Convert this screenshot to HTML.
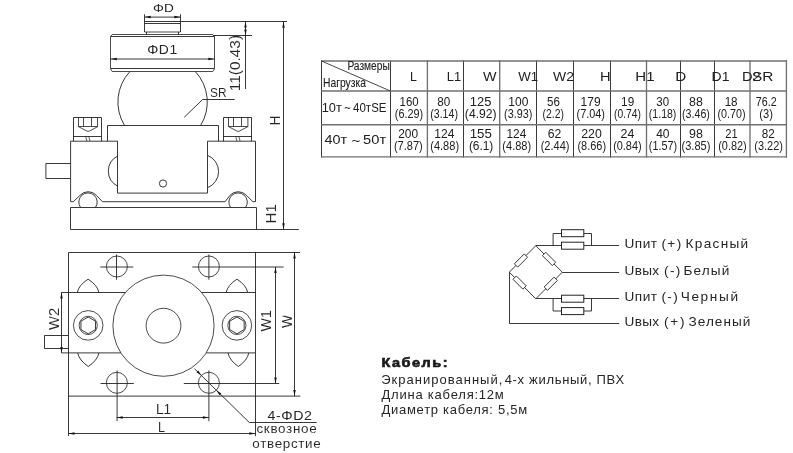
<!DOCTYPE html>
<html lang="ru">
<head>
<meta charset="utf-8">
<title>Размеры</title>
<style>
html,body{margin:0;padding:0;background:#fff;}
body{width:793px;height:453px;overflow:hidden;}
svg{display:block;font-family:"Liberation Sans",sans-serif;filter:grayscale(1);}
</style>
</head>
<body>
<svg width="793" height="453" viewBox="0 0 793 453">
<rect x="0" y="0" width="793" height="453" fill="#fff"/>
<g id="elevation">
<text x="153.05" y="12.4" font-size="11.5" fill="#262626" textLength="20.77" lengthAdjust="spacingAndGlyphs" >ΦD</text>
<line x1="144.5" y1="14.3" x2="144.5" y2="32" stroke="#222" stroke-width="0.9" />
<line x1="180.5" y1="14.3" x2="180.5" y2="32" stroke="#222" stroke-width="0.9" />
<line x1="144.7" y1="17.1" x2="180.3" y2="17.1" stroke="#222" stroke-width="0.9" />
<polygon points="144.70,17.10 150.70,15.85 150.70,18.35" fill="#151515"/>
<polygon points="180.30,17.10 174.30,18.35 174.30,15.85" fill="#151515"/>
<line x1="144.7" y1="21.5" x2="287" y2="21.5" stroke="#222" stroke-width="0.9" />
<line x1="144.7" y1="23.5" x2="180.3" y2="23.5" stroke="#222" stroke-width="0.9" />
<line x1="144.7" y1="32" x2="180.3" y2="32" stroke="#222" stroke-width="0.81" />
<line x1="146.5" y1="32" x2="146.5" y2="34.8" stroke="#222" stroke-width="0.9" />
<line x1="178.5" y1="32" x2="178.5" y2="34.8" stroke="#222" stroke-width="0.9" />
<path d="M110.5,36.7 L112.2,34.5 L212.8,34.5 L214.5,36.7 L214.5,68.6 L212.8,71.5 L112.2,71.5 L110.5,68.6 Z" stroke="#222" stroke-width="0.81" fill="none" />
<line x1="110.6" y1="36.5" x2="214.4" y2="36.5" stroke="#222" stroke-width="0.9" />
<line x1="110.6" y1="68.5" x2="214.4" y2="68.5" stroke="#222" stroke-width="0.9" />
<line x1="213" y1="35.5" x2="252" y2="35.5" stroke="#222" stroke-width="0.9" />
<line x1="110.8" y1="59" x2="214.3" y2="59" stroke="#222" stroke-width="0.9" />
<polygon points="110.80,59.00 116.80,57.75 116.80,60.25" fill="#151515"/>
<polygon points="214.30,59.00 208.30,60.25 208.30,57.75" fill="#151515"/>
<g transform="translate(147.23 53.8) scale(1.07 1)">
<text x="0" y="0" font-size="13" fill="#262626" letter-spacing="0.48" >ΦD1</text>
</g>
<path d="M129.92,71.5 A44.7,44.7 0 0 0 124.58,125.5" stroke="#222" stroke-width="0.9" fill="none" />
<path d="M195.28,71.5 A44.7,44.7 0 0 1 200.62,125.5" stroke="#222" stroke-width="0.9" fill="none" />
<path d="M184.2,117.3 L202.6,99.5 L234.7,99.5" stroke="#222" stroke-width="0.9" fill="none" />
<text x="210.06" y="96.5" font-size="12.8" fill="#262626" textLength="16.52" lengthAdjust="spacingAndGlyphs" stroke="#fff" stroke-width="0.05" >SR</text>
<path d="M107.5,141.2 L107.5,125.5 L218.5,125.5 L218.5,141.2" stroke="#222" stroke-width="0.9" fill="none" />
<path d="M117.5,141.2 L117.5,193.1 L207.5,193.1 L207.5,141.2" stroke="#222" stroke-width="0.9" fill="none" />
<path d="M117.8,141.2 L70.6,141.2 L70.6,201.7 L73.3,201.7 L79.9,195.4 A11.2,11.2 0 0 1 96.5,195.4 L102.4,201.7 L225.1,201.7 L229.89999999999998,195.4 A11.2,11.2 0 0 1 246.5,195.4 L252.89999999999998,201.7 L255.5,201.7 L255.5,141.2 L207.4,141.2" stroke="#222" stroke-width="0.9" fill="none" />
<path d="M117.8,156 A16.8,16.8 0 0 0 117.8,186.2" stroke="#222" stroke-width="0.9" fill="none" />
<path d="M207.4,155.3 A17.4,17.4 0 0 1 207.4,187.8" stroke="#222" stroke-width="0.9" fill="none" />
<path d="M80.48,207.4 A9.2,9.2 0 1 1 95.52,207.4" stroke="#222" stroke-width="0.9" fill="none" />
<path d="M230.58,207.4 A9.2,9.2 0 1 1 245.62,207.4" stroke="#222" stroke-width="0.9" fill="none" />
<circle cx="163" cy="183.5" r="3.6" stroke="#222" stroke-width="0.9" fill="none"/>
<path d="M70.5,163.5 L45.9,163.5 L45.9,178.5 L70.5,178.5" stroke="#222" stroke-width="0.9" fill="none" />
<path d="M73.5,141.2 L73.5,117.5 L101.5,117.5 L101.5,141.2" stroke="#222" stroke-width="0.9" fill="none" />
<line x1="73.2" y1="136.5" x2="101.6" y2="136.5" stroke="#222" stroke-width="0.9" />
<line x1="78.5" y1="117.2" x2="78.5" y2="126.6" stroke="#222" stroke-width="0.81" />
<line x1="83.5" y1="117.2" x2="83.5" y2="126.6" stroke="#222" stroke-width="0.81" />
<line x1="91.5" y1="117.2" x2="91.5" y2="126.6" stroke="#222" stroke-width="0.81" />
<line x1="97.5" y1="117.2" x2="97.5" y2="126.6" stroke="#222" stroke-width="0.81" />
<line x1="78.4" y1="126.5" x2="97.80000000000001" y2="126.5" stroke="#222" stroke-width="0.81" />
<path d="M78.4,126.6 L86.7,131 Q88.10000000000001,131.8 89.5,131 L97.80000000000001,126.6" stroke="#222" stroke-width="0.81" fill="none" />
<line x1="85.60000000000001" y1="136.2" x2="86.9" y2="141.2" stroke="#222" stroke-width="0.72" />
<line x1="88.7" y1="136.2" x2="90.0" y2="141.2" stroke="#222" stroke-width="0.72" />
<path d="M223.5,141.2 L223.5,117.5 L251.5,117.5 L251.5,141.2" stroke="#222" stroke-width="0.9" fill="none" />
<line x1="223.3" y1="136.5" x2="251.70000000000002" y2="136.5" stroke="#222" stroke-width="0.9" />
<line x1="228.5" y1="117.2" x2="228.5" y2="126.6" stroke="#222" stroke-width="0.81" />
<line x1="233.5" y1="117.2" x2="233.5" y2="126.6" stroke="#222" stroke-width="0.81" />
<line x1="241.5" y1="117.2" x2="241.5" y2="126.6" stroke="#222" stroke-width="0.81" />
<line x1="247.9" y1="117.2" x2="247.9" y2="126.6" stroke="#222" stroke-width="0.81" />
<line x1="228.5" y1="126.5" x2="247.9" y2="126.5" stroke="#222" stroke-width="0.81" />
<path d="M228.5,126.6 L236.8,131 Q238.20000000000002,131.8 239.60000000000002,131 L247.9,126.6" stroke="#222" stroke-width="0.81" fill="none" />
<line x1="235.70000000000002" y1="136.2" x2="237.0" y2="141.2" stroke="#222" stroke-width="0.72" />
<line x1="238.8" y1="136.2" x2="240.10000000000002" y2="141.2" stroke="#222" stroke-width="0.72" />
<path d="M70.5,229.4 L70.5,207.5 L256.5,207.5 L256.5,229.4" stroke="#222" stroke-width="0.9" fill="none" />
<line x1="70.5" y1="229.5" x2="298.8" y2="229.5" stroke="#222" stroke-width="0.9" />
<line x1="283.5" y1="21.7" x2="283.5" y2="229.2" stroke="#222" stroke-width="0.9" />
<polygon points="283.50,21.70 284.75,27.70 282.25,27.70" fill="#151515"/>
<polygon points="283.50,229.20 282.25,223.20 284.75,223.20" fill="#151515"/>
<text x="280" y="125.17" font-size="14.3" fill="#262626" textLength="9.67" lengthAdjust="spacingAndGlyphs" transform="rotate(-90 280 125.17)" stroke="#fff" stroke-width="0.05" >H</text>
<text x="276.3" y="223.4" font-size="14.3" fill="#262626" textLength="19.23" lengthAdjust="spacingAndGlyphs" transform="rotate(-90 276.3 223.4)" stroke="#fff" stroke-width="0.05" >H1</text>
<line x1="245.5" y1="21.5" x2="245.5" y2="89" stroke="#222" stroke-width="0.9" />
<polygon points="245.50,21.70 246.75,27.50 244.25,27.50" fill="#151515"/>
<polygon points="245.50,35.30 244.25,29.50 246.75,29.50" fill="#151515"/>
<text x="239.9" y="91.15" font-size="14.5" fill="#262626" textLength="56.19" lengthAdjust="spacingAndGlyphs" transform="rotate(-90 239.9 91.15)" stroke="#fff" stroke-width="0.05" >11(0.43)</text>
</g>
<g id="plan">
<path d="M68.5,436 L68.5,252.5 L300,252.5" stroke="#222" stroke-width="0.9" fill="none" />
<path d="M255.5,252.4 L255.5,436.2" stroke="#222" stroke-width="0.9" fill="none" />
<line x1="68.5" y1="396.1" x2="300.3" y2="396.1" stroke="#222" stroke-width="0.9"/>
<circle cx="116.9" cy="266.5" r="10.5" stroke="#222" stroke-width="0.81" fill="none"/>
<circle cx="208.9" cy="266.5" r="10.5" stroke="#222" stroke-width="0.81" fill="none"/>
<circle cx="116.9" cy="382.8" r="10.5" stroke="#222" stroke-width="0.81" fill="none"/>
<circle cx="208.9" cy="382.8" r="10.5" stroke="#222" stroke-width="0.81" fill="none"/>
<line x1="100.3" y1="267.0" x2="133.3" y2="267.0" stroke="#222" stroke-width="0.9"/>
<line x1="116.5" y1="254.5" x2="116.5" y2="279.7" stroke="#222" stroke-width="0.9" />
<line x1="192.3" y1="267.0" x2="283.6" y2="267.0" stroke="#222" stroke-width="0.9"/>
<line x1="208.9" y1="254.5" x2="208.9" y2="279.7" stroke="#222" stroke-width="0.9" />
<line x1="100.6" y1="383.5" x2="133.8" y2="383.5" stroke="#222" stroke-width="0.9" />
<line x1="117.1" y1="370.5" x2="117.1" y2="421" stroke="#222" stroke-width="0.9"/>
<line x1="183.8" y1="383.5" x2="279.2" y2="383.5" stroke="#222" stroke-width="0.9" />
<line x1="208.9" y1="370.5" x2="208.9" y2="421.2" stroke="#222" stroke-width="0.9" />
<circle cx="163.5" cy="325.7" r="50.6" stroke="#222" stroke-width="0.81" fill="none"/>
<circle cx="163.5" cy="325.7" r="17.4" stroke="#222" stroke-width="0.81" fill="none"/>
<line x1="61.4" y1="292.5" x2="125.40183731464208" y2="292.5" stroke="#222" stroke-width="0.9" />
<line x1="201.59816268535792" y1="292.5" x2="255.3" y2="292.5" stroke="#222" stroke-width="0.9" />
<line x1="61.4" y1="352.9" x2="120.83244792585353" y2="352.9" stroke="#222" stroke-width="0.9" />
<line x1="206.16755207414647" y1="352.9" x2="255.3" y2="352.9" stroke="#222" stroke-width="0.9" />
<line x1="61.5" y1="292.4" x2="61.5" y2="352.9" stroke="#222" stroke-width="0.9" />
<polygon points="61.50,292.40 62.75,298.40 60.25,298.40" fill="#151515"/>
<polygon points="61.50,352.90 60.25,346.90 62.75,346.90" fill="#151515"/>
<text x="59.1" y="329.87" font-size="14.3" fill="#262626" textLength="22.11" lengthAdjust="spacingAndGlyphs" transform="rotate(-90 59.1 329.87)" stroke="#fff" stroke-width="0.05" >W2</text>
<circle cx="88.2" cy="325.4" r="14.8" stroke="#222" stroke-width="0.81" fill="none"/>
<circle cx="88.2" cy="325.4" r="9.1" stroke="#222" stroke-width="0.81" fill="none"/>
<polygon points="88.20,317.00 95.47,321.20 95.47,329.60 88.20,333.80 80.93,329.60 80.93,321.20" stroke="#222" stroke-width="0.9" fill="none"/>
<circle cx="236.9" cy="325.4" r="14.8" stroke="#222" stroke-width="0.81" fill="none"/>
<circle cx="236.9" cy="325.4" r="9.1" stroke="#222" stroke-width="0.81" fill="none"/>
<polygon points="236.90,317.00 244.17,321.20 244.17,329.60 236.90,333.80 229.63,329.60 229.63,321.20" stroke="#222" stroke-width="0.9" fill="none"/>
<path d="M77.3,292.4 Q78.8,285.14 88.1,279.2 Q97.4,285.14 98.9,292.4" stroke="#222" stroke-width="0.9" fill="none" />
<path d="M226.2,292.4 Q227.7,285.14 236.95,279.2 Q246.2,285.14 247.7,292.4" stroke="#222" stroke-width="0.9" fill="none" />
<path d="M77.7,352.9 Q79.2,360.38 88.30000000000001,366.5 Q97.4,360.38 98.9,352.9" stroke="#222" stroke-width="0.9" fill="none" />
<path d="M228,352.9 Q229.5,360.38 238.4,366.5 Q247.3,360.38 248.8,352.9" stroke="#222" stroke-width="0.9" fill="none" />
<path d="M68.5,335.5 L44.5,335.5 L44.5,348.5 L68.5,348.5" stroke="#222" stroke-width="0.9" fill="none" />
<line x1="275.5" y1="267" x2="275.5" y2="383.5" stroke="#222" stroke-width="0.9" />
<polygon points="275.50,267.00 276.75,273.00 274.25,273.00" fill="#151515"/>
<polygon points="275.50,383.50 274.25,377.50 276.75,377.50" fill="#151515"/>
<line x1="294.5" y1="252.4" x2="294.5" y2="396.1" stroke="#222" stroke-width="0.9" />
<polygon points="294.50,252.40 295.75,258.40 293.25,258.40" fill="#151515"/>
<polygon points="294.50,396.10 293.25,390.10 295.75,390.10" fill="#151515"/>
<text x="271.3" y="331.47" font-size="14.3" fill="#262626" textLength="21.31" lengthAdjust="spacingAndGlyphs" transform="rotate(-90 271.3 331.47)" stroke="#fff" stroke-width="0.05" >W1</text>
<text x="292.2" y="327.97" font-size="14.3" fill="#262626" textLength="13.12" lengthAdjust="spacingAndGlyphs" transform="rotate(-90 292.2 327.97)" stroke="#fff" stroke-width="0.05" >W</text>
<line x1="116.7" y1="417.5" x2="208.9" y2="417.5" stroke="#222" stroke-width="0.9" />
<polygon points="116.70,417.50 122.70,416.25 122.70,418.75" fill="#151515"/>
<polygon points="208.90,417.50 202.90,418.75 202.90,416.25" fill="#151515"/>
<line x1="68.5" y1="433.5" x2="255.3" y2="433.5" stroke="#222" stroke-width="0.9" />
<polygon points="68.50,433.50 74.50,432.25 74.50,434.75" fill="#151515"/>
<polygon points="255.30,433.50 249.30,434.75 249.30,432.25" fill="#151515"/>
<text x="155.9" y="413.5" font-size="14" fill="#262626" textLength="15.25" lengthAdjust="spacingAndGlyphs" stroke="#fff" stroke-width="0.05" >L1</text>
<text x="157.99" y="431.5" font-size="13.8" fill="#262626" textLength="7.0" lengthAdjust="spacingAndGlyphs" stroke="#fff" stroke-width="0.05" >L</text>
<path d="M194.4,368.7 L249.3,422.5 L316.7,422.5" stroke="#222" stroke-width="0.9" fill="none" />
<polygon points="201.50,375.40 196.51,372.18 198.28,370.41" fill="#151515"/>
<polygon points="216.30,390.20 221.29,393.42 219.52,395.19" fill="#151515"/>
<g transform="translate(267.62 419.8) scale(1.12 1)">
<text x="0" y="0" font-size="12.7" fill="#262626" letter-spacing="0.474" >4-ΦD2</text>
</g>
<text x="256.46" y="433.1" font-size="13.4" fill="#262626" letter-spacing="0.7" stroke="#fff" stroke-width="0.05" >сквозное</text>
<text x="252.36" y="448" font-size="13.4" fill="#262626" letter-spacing="0.682" stroke="#fff" stroke-width="0.05" >отверстие</text>
</g>
<g id="table">
<line x1="321.5" y1="60.3" x2="321.5" y2="157.6" stroke="#2e2e2e" stroke-width="0.945" />
<line x1="390.5" y1="60.3" x2="390.5" y2="157.6" stroke="#2e2e2e" stroke-width="0.945" />
<line x1="427.4" y1="60.3" x2="427.4" y2="157.6" stroke="#707070" stroke-width="1.35"/>
<line x1="463.5" y1="60.3" x2="463.5" y2="157.6" stroke="#2e2e2e" stroke-width="0.945" />
<line x1="499.7" y1="60.3" x2="499.7" y2="157.6" stroke="#707070" stroke-width="1.35"/>
<line x1="536.5" y1="60.3" x2="536.5" y2="157.6" stroke="#2e2e2e" stroke-width="0.945" />
<line x1="573.5" y1="60.3" x2="573.5" y2="157.6" stroke="#2e2e2e" stroke-width="0.945" />
<line x1="610.5" y1="60.3" x2="610.5" y2="157.6" stroke="#2e2e2e" stroke-width="0.945" />
<line x1="646.5" y1="60.3" x2="646.5" y2="157.6" stroke="#707070" stroke-width="1.35"/>
<line x1="680.5" y1="60.3" x2="680.5" y2="157.6" stroke="#2e2e2e" stroke-width="0.945" />
<line x1="714.5" y1="60.3" x2="714.5" y2="157.6" stroke="#2e2e2e" stroke-width="0.945" />
<line x1="750" y1="60.3" x2="750" y2="157.6" stroke="#707070" stroke-width="1.35"/>
<line x1="786.4" y1="60.3" x2="786.4" y2="157.6" stroke="#707070" stroke-width="1.35"/>
<line x1="321.0" y1="61.0" x2="787.0" y2="61.0" stroke="#707070" stroke-width="1.44"/>
<line x1="321.0" y1="91.0" x2="787.0" y2="91.0" stroke="#707070" stroke-width="1.44"/>
<line x1="321.0" y1="124.8" x2="787.0" y2="124.8" stroke="#707070" stroke-width="1.44"/>
<line x1="321.0" y1="156.9" x2="787.0" y2="156.9" stroke="#707070" stroke-width="1.44"/>
<line x1="321.5" y1="61.0" x2="390.4" y2="91.0" stroke="#333" stroke-width="0.9" />
<text x="347.38" y="70.3" font-size="12" fill="#202020" textLength="42.44" lengthAdjust="spacingAndGlyphs" stroke="#202020" stroke-width="0.1" >Размеры</text>
<text x="323.08" y="86.5" font-size="12.9" fill="#202020" textLength="42.85" lengthAdjust="spacingAndGlyphs" stroke="#202020" stroke-width="0.1" >Нагрузка</text>
<text x="410.11" y="80.5" font-size="12.6" fill="#202020" textLength="6.87" lengthAdjust="spacingAndGlyphs" >L</text>
<text x="446.77" y="80.5" font-size="12.6" fill="#202020" textLength="14.34" lengthAdjust="spacingAndGlyphs" >L1</text>
<text x="482.93" y="80.5" font-size="12.6" fill="#202020" textLength="13.53" lengthAdjust="spacingAndGlyphs" >W</text>
<text x="518.33" y="80.5" font-size="12.6" fill="#202020" textLength="19.86" lengthAdjust="spacingAndGlyphs" >W1</text>
<text x="553.13" y="80.5" font-size="12.6" fill="#202020" textLength="20.87" lengthAdjust="spacingAndGlyphs" >W2</text>
<text x="599.93" y="80.5" font-size="12.6" fill="#202020" textLength="10.57" lengthAdjust="spacingAndGlyphs" >H</text>
<text x="635.3" y="80.5" font-size="12.6" fill="#202020" textLength="19.23" lengthAdjust="spacingAndGlyphs" >H1</text>
<text x="675.38" y="80.5" font-size="12.6" fill="#202020" textLength="11.05" lengthAdjust="spacingAndGlyphs" >D</text>
<text x="711.58" y="80.5" font-size="12.6" fill="#202020" textLength="17.9" lengthAdjust="spacingAndGlyphs" >D1</text>
<text x="742.03" y="80.5" font-size="12.6" fill="#202020" textLength="18.76" lengthAdjust="spacingAndGlyphs" >D2</text>
<text x="752.01" y="80.5" font-size="12.6" fill="#202020" textLength="21.35" lengthAdjust="spacingAndGlyphs" >SR</text>
<text x="321.74" y="111.9" font-size="13.2" fill="#202020" textLength="20.12" lengthAdjust="spacingAndGlyphs" >10т</text>
<text x="344.2" y="112.4" font-size="13.2" fill="#202020" textLength="6.49" lengthAdjust="spacingAndGlyphs" >~</text>
<text x="353.07" y="111.9" font-size="13.2" fill="#202020" textLength="33.44" lengthAdjust="spacingAndGlyphs" >40тSE</text>
<text x="324.51" y="144" font-size="13.6" fill="#202020" textLength="22.58" lengthAdjust="spacingAndGlyphs" >40т</text>
<text x="351.42" y="144.6" font-size="13.6" fill="#202020" textLength="8.85" lengthAdjust="spacingAndGlyphs" >~</text>
<text x="363.11" y="144" font-size="13.6" fill="#202020" textLength="22.98" lengthAdjust="spacingAndGlyphs" >50т</text>
<text x="399.54" y="105.8" font-size="12.8" fill="#202020" textLength="19.1" lengthAdjust="spacingAndGlyphs" >160</text>
<text x="394.85" y="118" font-size="12.8" fill="#202020" textLength="28.33" lengthAdjust="spacingAndGlyphs" >(6.29)</text>
<text x="398.2" y="137.8" font-size="12.8" fill="#202020" textLength="19.96" lengthAdjust="spacingAndGlyphs" >200</text>
<text x="393.94" y="150.1" font-size="12.8" fill="#202020" textLength="28.85" lengthAdjust="spacingAndGlyphs" >(7.87)</text>
<text x="437.33" y="105.8" font-size="12.8" fill="#202020" textLength="13.0" lengthAdjust="spacingAndGlyphs" >80</text>
<text x="430.26" y="118" font-size="12.8" fill="#202020" textLength="27.7" lengthAdjust="spacingAndGlyphs" >(3.14)</text>
<text x="434.3" y="137.8" font-size="12.8" fill="#202020" textLength="20.04" lengthAdjust="spacingAndGlyphs" >124</text>
<text x="430.24" y="150.1" font-size="12.8" fill="#202020" textLength="28.85" lengthAdjust="spacingAndGlyphs" >(4.88)</text>
<text x="469.73" y="105.8" font-size="12.8" fill="#202020" textLength="21.64" lengthAdjust="spacingAndGlyphs" >125</text>
<text x="464.87" y="118" font-size="12.8" fill="#202020" textLength="31.79" lengthAdjust="spacingAndGlyphs" >(4.92)</text>
<text x="469.7" y="137.8" font-size="12.8" fill="#202020" textLength="22.18" lengthAdjust="spacingAndGlyphs" >155</text>
<text x="468.89" y="150.1" font-size="12.8" fill="#202020" textLength="24.44" lengthAdjust="spacingAndGlyphs" >(6.1)</text>
<text x="508.3" y="105.8" font-size="12.8" fill="#202020" textLength="20.07" lengthAdjust="spacingAndGlyphs" >100</text>
<text x="504.05" y="118" font-size="12.8" fill="#202020" textLength="28.22" lengthAdjust="spacingAndGlyphs" >(3.93)</text>
<text x="506.51" y="137.8" font-size="12.8" fill="#202020" textLength="19.72" lengthAdjust="spacingAndGlyphs" >124</text>
<text x="502.34" y="150.1" font-size="12.8" fill="#202020" textLength="28.85" lengthAdjust="spacingAndGlyphs" >(4.88)</text>
<text x="547.04" y="105.8" font-size="12.8" fill="#202020" textLength="12.85" lengthAdjust="spacingAndGlyphs" >56</text>
<text x="542.58" y="118" font-size="12.8" fill="#202020" textLength="21.36" lengthAdjust="spacingAndGlyphs" >(2.2)</text>
<text x="547.69" y="137.8" font-size="12.8" fill="#202020" textLength="13.55" lengthAdjust="spacingAndGlyphs" >62</text>
<text x="540.64" y="150.1" font-size="12.8" fill="#202020" textLength="28.85" lengthAdjust="spacingAndGlyphs" >(2.44)</text>
<text x="580.6" y="105.8" font-size="12.8" fill="#202020" textLength="19.98" lengthAdjust="spacingAndGlyphs" >179</text>
<text x="576.55" y="118" font-size="12.8" fill="#202020" textLength="28.43" lengthAdjust="spacingAndGlyphs" >(7.04)</text>
<text x="581.18" y="137.8" font-size="12.8" fill="#202020" textLength="20.59" lengthAdjust="spacingAndGlyphs" >220</text>
<text x="577.44" y="150.1" font-size="12.8" fill="#202020" textLength="28.64" lengthAdjust="spacingAndGlyphs" >(8.66)</text>
<text x="621.12" y="105.8" font-size="12.8" fill="#202020" textLength="13.03" lengthAdjust="spacingAndGlyphs" >19</text>
<text x="613.98" y="118" font-size="12.8" fill="#202020" textLength="26.86" lengthAdjust="spacingAndGlyphs" >(0.74)</text>
<text x="620.58" y="137.8" font-size="12.8" fill="#202020" textLength="13.76" lengthAdjust="spacingAndGlyphs" >24</text>
<text x="613.14" y="150.1" font-size="12.8" fill="#202020" textLength="28.54" lengthAdjust="spacingAndGlyphs" >(0.84)</text>
<text x="656.24" y="105.8" font-size="12.8" fill="#202020" textLength="12.79" lengthAdjust="spacingAndGlyphs" >30</text>
<text x="648.87" y="118" font-size="12.8" fill="#202020" textLength="27.49" lengthAdjust="spacingAndGlyphs" >(1.18)</text>
<text x="656.16" y="137.8" font-size="12.8" fill="#202020" textLength="13.39" lengthAdjust="spacingAndGlyphs" >40</text>
<text x="648.85" y="150.1" font-size="12.8" fill="#202020" textLength="28.22" lengthAdjust="spacingAndGlyphs" >(1.57)</text>
<text x="689.11" y="105.8" font-size="12.8" fill="#202020" textLength="13.72" lengthAdjust="spacingAndGlyphs" >88</text>
<text x="682.06" y="118" font-size="12.8" fill="#202020" textLength="27.8" lengthAdjust="spacingAndGlyphs" >(3.46)</text>
<text x="689.04" y="137.8" font-size="12.8" fill="#202020" textLength="13.78" lengthAdjust="spacingAndGlyphs" >98</text>
<text x="681.54" y="150.1" font-size="12.8" fill="#202020" textLength="28.85" lengthAdjust="spacingAndGlyphs" >(3.85)</text>
<text x="724.63" y="105.8" font-size="12.8" fill="#202020" textLength="12.97" lengthAdjust="spacingAndGlyphs" >18</text>
<text x="717.46" y="118" font-size="12.8" fill="#202020" textLength="28.01" lengthAdjust="spacingAndGlyphs" >(0.70)</text>
<text x="725.24" y="137.8" font-size="12.8" fill="#202020" textLength="12.38" lengthAdjust="spacingAndGlyphs" >21</text>
<text x="718.25" y="150.1" font-size="12.8" fill="#202020" textLength="28.43" lengthAdjust="spacingAndGlyphs" >(0.82)</text>
<text x="755.86" y="105.8" font-size="12.8" fill="#202020" textLength="20.89" lengthAdjust="spacingAndGlyphs" >76.2</text>
<text x="759.33" y="118" font-size="12.8" fill="#202020" textLength="13.56" lengthAdjust="spacingAndGlyphs" >(3)</text>
<text x="761.83" y="137.8" font-size="12.8" fill="#202020" textLength="12.98" lengthAdjust="spacingAndGlyphs" >82</text>
<text x="754.24" y="150.1" font-size="12.8" fill="#202020" textLength="28.75" lengthAdjust="spacingAndGlyphs" >(3.22)</text>
</g>
<g id="wiring">
<path d="M535.8,245.7 L562.3,272.2 L535.8,298.8 L509.3,272.2 Z" stroke="#222" stroke-width="0.9" fill="none" />
<line x1="535.8" y1="245.5" x2="619.1" y2="245.5" stroke="#222" stroke-width="0.9" />
<line x1="562.3" y1="272.5" x2="619.1" y2="272.5" stroke="#222" stroke-width="0.9" />
<line x1="535.8" y1="298.5" x2="619.1" y2="298.5" stroke="#222" stroke-width="0.9" />
<path d="M509.5,272.2 L509.5,323.5 L619.1,323.5" stroke="#222" stroke-width="0.9" fill="none" />
<rect x="-7.0" y="-2.35" width="14" height="4.7" fill="#fff" stroke="#222" stroke-width="0.85" transform="translate(549.05 258.95) rotate(45.00)"/>
<rect x="-7.0" y="-2.35" width="14" height="4.7" fill="#fff" stroke="#222" stroke-width="0.85" transform="translate(550.80 283.74) rotate(-45.11)"/>
<rect x="-7.0" y="-2.35" width="14" height="4.7" fill="#fff" stroke="#222" stroke-width="0.85" transform="translate(519.63 282.57) rotate(45.11)"/>
<rect x="-7.0" y="-2.35" width="14" height="4.7" fill="#fff" stroke="#222" stroke-width="0.85" transform="translate(520.96 260.54) rotate(-45.00)"/>
<path d="M553.1,245.7 L553.1,233.5 L591.5,233.5 L591.5,245.7" stroke="#222" stroke-width="0.9" fill="none" />
<path d="M553.1,298.8 L553.1,311 L591.5,311 L591.5,298.8" stroke="#222" stroke-width="0.9" fill="none" />
<rect x="561.5" y="229.7" width="22.3" height="7" stroke="#222" stroke-width="0.99" fill="#fff" />
<rect x="561.5" y="242.2" width="22.3" height="7" stroke="#222" stroke-width="0.99" fill="#fff" />
<rect x="561.5" y="295.2" width="22.3" height="7" stroke="#222" stroke-width="0.99" fill="#fff" />
<rect x="561.5" y="307.6" width="22.3" height="7" stroke="#222" stroke-width="0.99" fill="#fff" />
<text x="624.58" y="247.9" font-size="13.6" fill="#262626" letter-spacing="0.461" >Uпит</text>
<text x="661.38" y="247.9" font-size="13.6" fill="#262626" letter-spacing="1.4" >(+)</text>
<text x="685.61" y="247.9" font-size="13.6" fill="#262626" letter-spacing="1.3" >Красный</text>
<text x="624.58" y="274.7" font-size="13.6" fill="#262626" letter-spacing="0.288" >Uвых</text>
<text x="664.08" y="274.7" font-size="13.6" fill="#262626" letter-spacing="1.3" >(-)</text>
<text x="683.41" y="274.7" font-size="13.6" fill="#262626" letter-spacing="1.149" >Белый</text>
<text x="624.58" y="300.7" font-size="13.6" fill="#262626" letter-spacing="0.461" >Uпит</text>
<text x="661.38" y="300.7" font-size="13.6" fill="#262626" letter-spacing="1.35" >(-)</text>
<text x="680.68" y="300.7" font-size="13.6" fill="#262626" letter-spacing="1.655" >Черный</text>
<text x="624.58" y="325.9" font-size="13.6" fill="#262626" letter-spacing="0.288" >Uвых</text>
<text x="664.08" y="325.9" font-size="13.6" fill="#262626" letter-spacing="1.7" >(+)</text>
<text x="688.62" y="325.9" font-size="13.6" fill="#262626" letter-spacing="0.995" >Зеленый</text>
</g>
<g id="cable">
<g transform="translate(381.46 366.7) scale(1.18 1)">
<text x="0" y="0" font-size="12.3" fill="#1a1a1a" font-weight="bold" letter-spacing="1.276" stroke="#1a1a1a" stroke-width="0.6" >Кабель:</text>
</g>
<text x="381.25" y="383.7" font-size="13" fill="#262626" letter-spacing="1.009" >Экранированный,</text>
<text x="504.64" y="383.7" font-size="13" fill="#262626" letter-spacing="0.69" >4-х жильный, ПВХ</text>
<text x="381.54" y="398.8" font-size="13" fill="#262626" letter-spacing="0.776" >Длина кабеля:12м</text>
<text x="381.54" y="413.9" font-size="13" fill="#262626" letter-spacing="0.714" >Диаметр кабеля: 5,5м</text>
</g>
</svg>
</body>
</html>
